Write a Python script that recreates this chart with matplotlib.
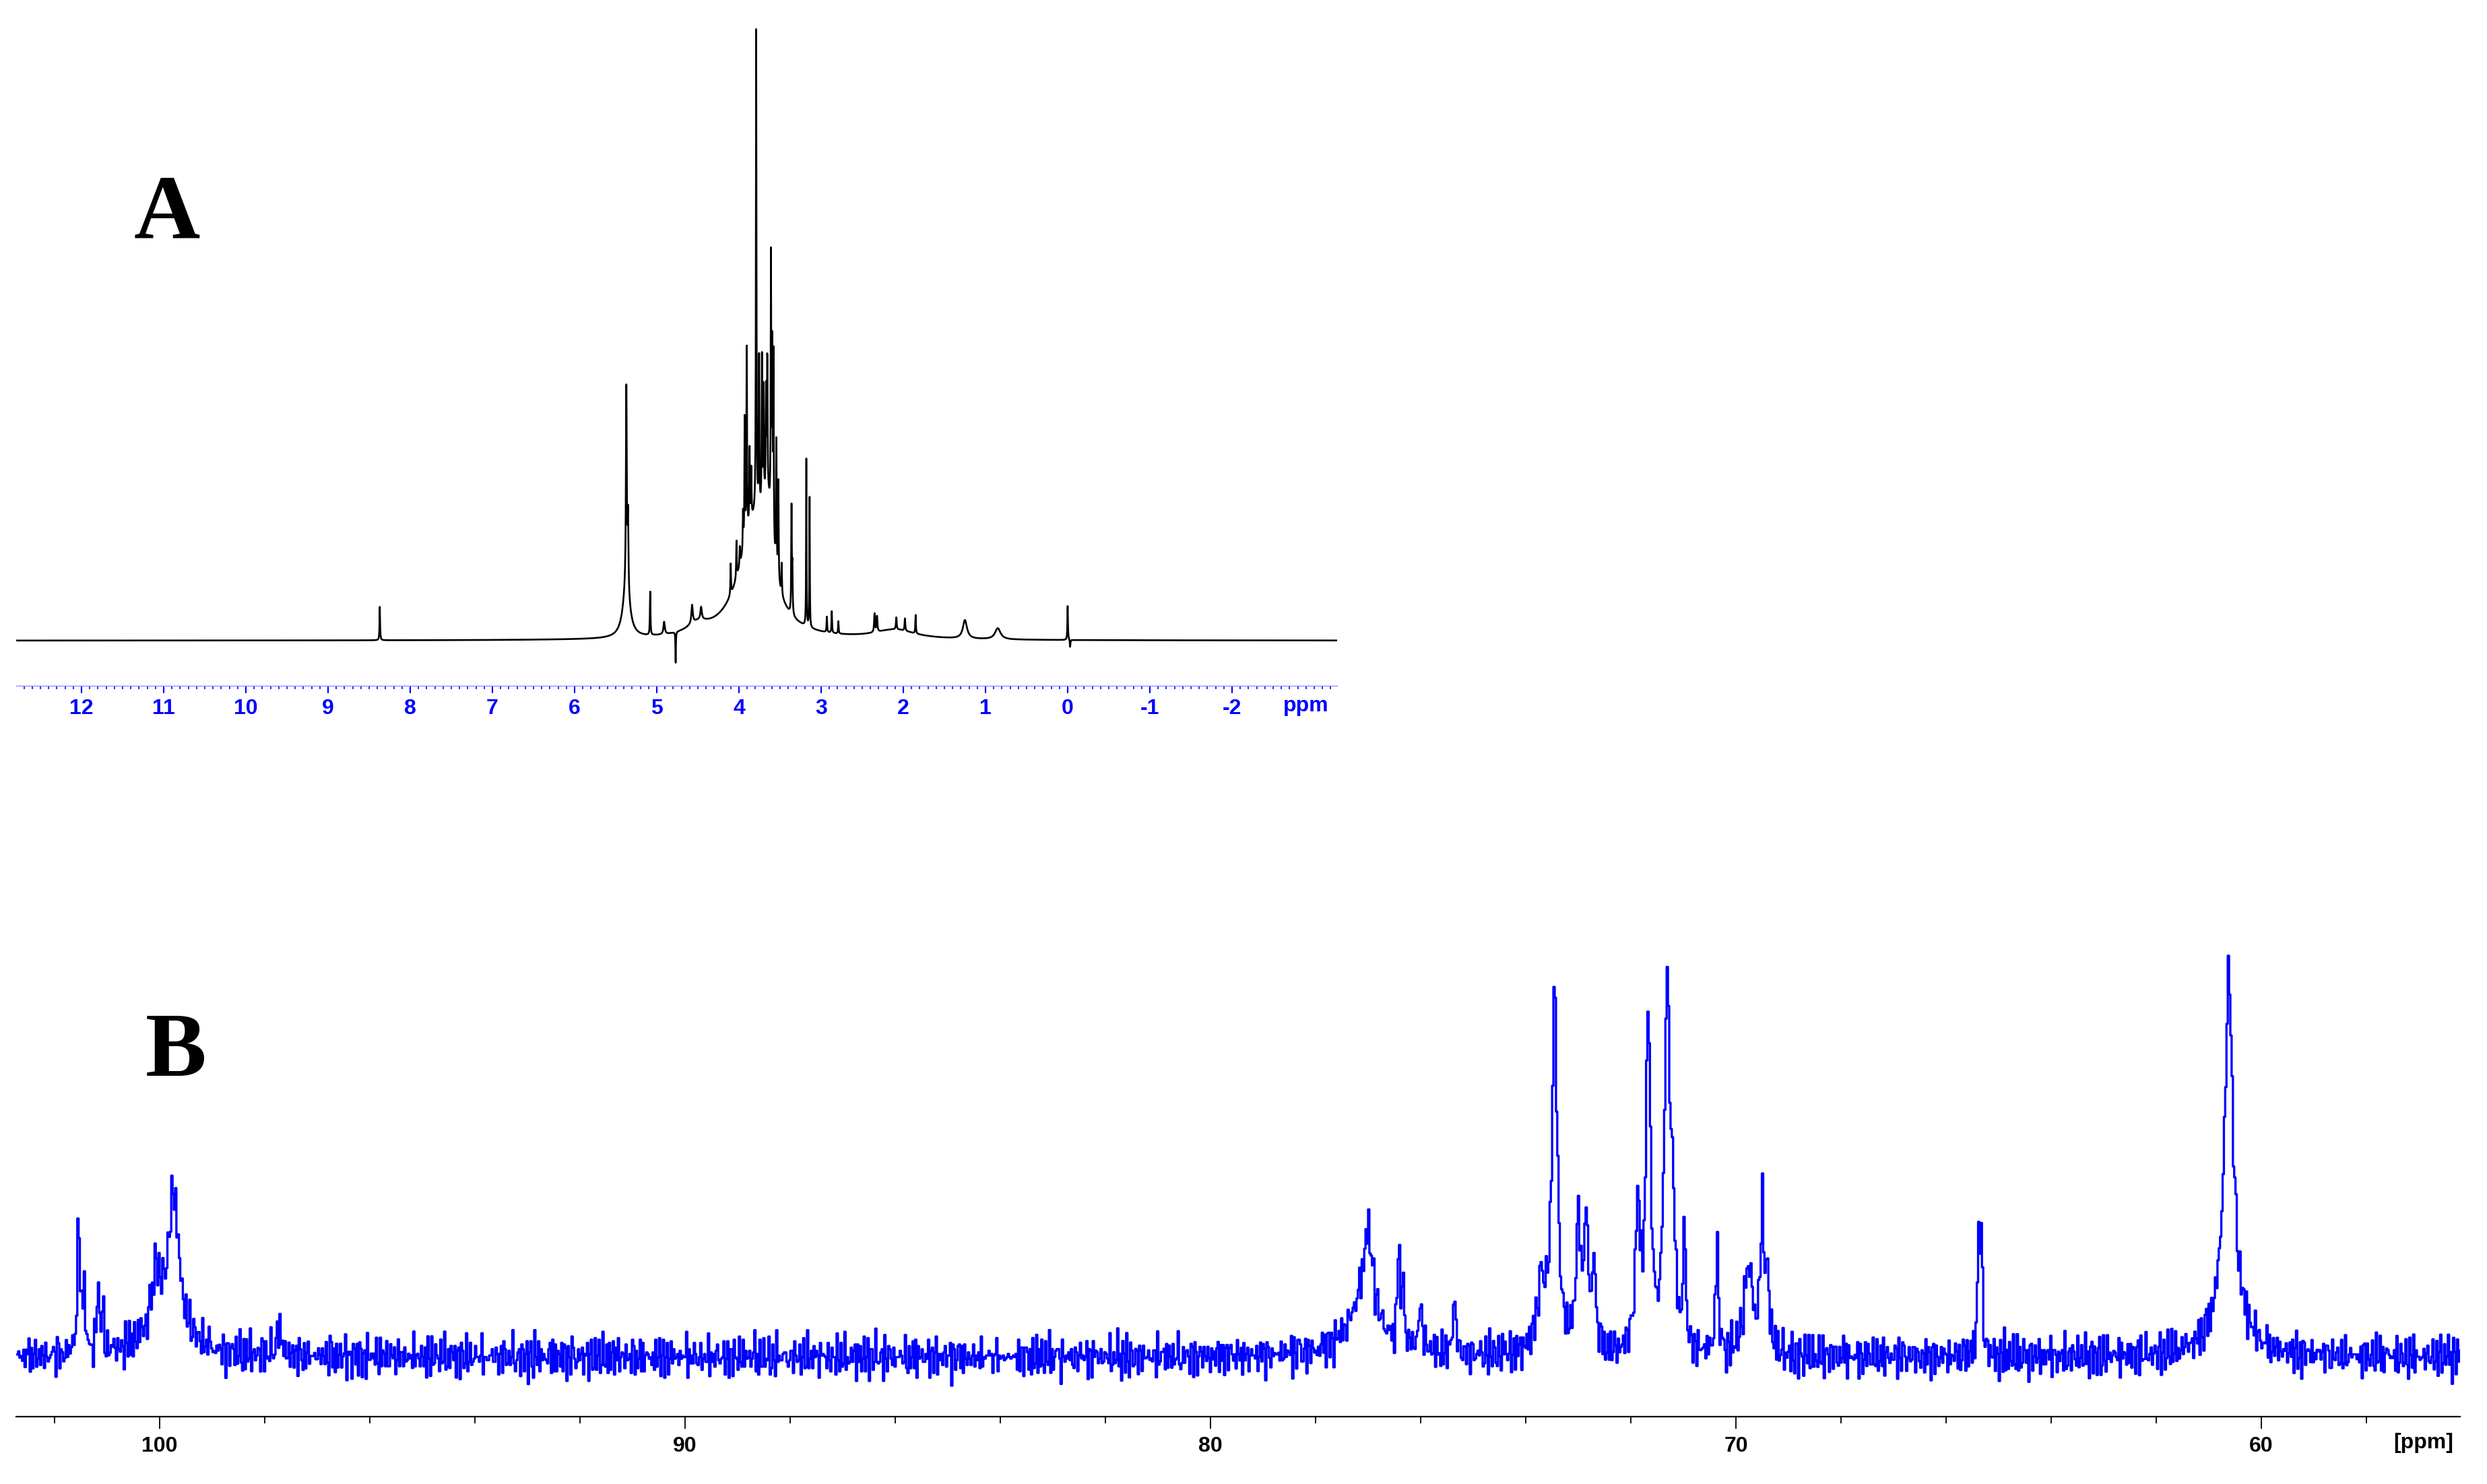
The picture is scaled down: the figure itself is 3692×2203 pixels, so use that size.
import numpy as np
import matplotlib.pyplot as plt
from matplotlib.ticker import MultipleLocator, FixedLocator

# === 1. data ===
# panel A (1H): peak position [ppm], height (tallest = 100), half width [ppm]
h1_ppm = [8.37, 5.37, 5.37, 5.35, 5.08, 4.91, 4.77, 4.57, 4.46, 4.50,
          4.10, 4.03, 3.99, 3.95, 3.93, 3.905, 3.87, 3.85, 3.82, 3.79,
          3.755, 3.72, 3.70, 3.67, 3.655, 3.65, 3.61, 3.595, 3.58, 3.545,
          3.52, 3.48, 3.36, 3.35, 3.18, 3.14, 2.93, 2.87, 2.79, 2.35,
          2.32, 2.10, 2.085, 1.98, 1.85, 1.25, 0.85, 0.0, -0.03]
h1_int = [5.4, 8.0, 32.0, 12.0, 7.0, 2.0, -5.0, 3.0, 2.0, 1.5,
          5.0, 6.0, 3.0, 6.0, 20.0, 32.0, 12.0, 8.0, 18.0, 78.0,
          26.0, 24.0, 18.0, 16.0, 22.0, 12.0, 42.0, 30.0, 30.0, 22.0,
          16.0, 5.0, 17.0, 7.0, 27.0, 21.0, 2.5, 3.5, 2.0, 3.0,
          2.5, 1.5, 2.0, 2.0, 3.0, 3.0, 1.8, 5.5, -1.2]
h1_hw = [0.004, 0.05, 0.006, 0.006, 0.004, 0.01, 0.003, 0.01, 0.01, 0.15,
         0.004, 0.004, 0.004, 0.004, 0.004, 0.004, 0.004, 0.004, 0.22, 0.004,
         0.004, 0.004, 0.004, 0.004, 0.004, 0.07, 0.004, 0.004, 0.004, 0.004,
         0.004, 0.004, 0.004, 0.004, 0.003, 0.003, 0.004, 0.004, 0.004, 0.006,
         0.006, 0.3, 0.005, 0.005, 0.004, 0.03, 0.04, 0.004, 0.004]

# panel B (13C): position [ppm], height, half width [ppm]
c13_ppm = [101.54, 101.44, 101.17, 101.08, 100.07, 99.73, 99.9, 97.72,
           77.0, 77.1, 76.42, 76.34, 76.0, 75.36,
           73.7, 73.45, 73.0, 72.85, 72.7, 71.87, 71.67, 71.31, 71.2,
           70.98, 70.36, 69.76, 69.5, 69.4, 65.38, 65.33, 60.62, 60.62]
c13_int = [95, 45, 45, 25, 35, 85, 20, 18,
           55, 25, 60, 45, 25, 45,
           40, 225, 80, 80, 50, 90, 217, 230, 70,
           80, 80, 55, 85, 45, 70, 70, 205, 35]
c13_hw = [0.025, 0.025, 0.025, 0.025, 0.08, 0.12, 0.45, 0.05,
          0.12, 0.4, 0.025, 0.025, 0.05, 0.025,
          0.1, 0.06, 0.05, 0.05, 0.04, 0.05, 0.05, 0.06, 0.05,
          0.025, 0.025, 0.1, 0.04, 0.04, 0.025, 0.025, 0.09, 0.3]

# baseline noise of B, typed by hand
noise_a = [3, -5, 7, -2, -8, 4, 1, -6, 9, -3, 2, -7, 5, 0, -4, 8, -1, -9,
           6, -2, 3, -6, 1, 7, -5, -1, 4, -8, 2, 6, -3, -7, 9, 0, -4, 5,
           -2, 3, -9, 7, 1, -5, 4, -1, 8, -6, 2, -3, 6, -8, 0, 5, -4]
noise_b = [-2, 6, -4, 1, 8, -7, 3, -1, -5, 4, 9, -3, 0, -8, 5, 2, -6, 7,
           -2, -4, 3, 6, -9, 1, 4, -3, -6, 8, 0, -1, 5, -7, 2, 7, -5, -2,
           3, -8, 6, 1, -4, 9, -6, 2, -1, 4, -3]

h1_ticks = list(range(-2, 13))
c13_ticks = [100, 90, 80, 70, 60]


def lorentz(x, c, h, w):
    return h / (1.0 + ((x - c) / w) ** 2)


# === 2. build spectra ===
ppm_a = np.arange(-3.3, 12.82, 0.002)
spec_a = np.zeros_like(ppm_a)
for c, h, w in zip(h1_ppm, h1_int, h1_hw):
    spec_a += lorentz(ppm_a, c, h, w)

ppm_b = np.linspace(102.73, 56.22, 1900)
spec_b = np.zeros_like(ppm_b)
for c, h, w in zip(c13_ppm, c13_int, c13_hw):
    spec_b += lorentz(ppm_b, c, h, w)
n = len(ppm_b)
spec_b += np.resize(noise_a, n) + np.resize(noise_b, n)

# === 3. figure ===
W, H = 3692, 2203
fig = plt.figure(figsize=(W / 100, H / 100), dpi=100)
blue = "#0000ff"

# panel A
axA = fig.add_axes([24 / W, 1 - 1018 / H, 1961 / W, 998 / H])
axA.plot(ppm_a, spec_a, color="black", lw=1.9)
axA.set_xlim(12.795, -3.279)
axA.set_ylim(-7.3, 101.4)
for s in ["top", "left", "right"]:
    axA.spines[s].set_visible(False)
axA.spines["bottom"].set_color("#9090ff")
axA.spines["bottom"].set_linewidth(1.0)
axA.set_yticks([])
axA.xaxis.set_major_locator(FixedLocator(h1_ticks))
axA.xaxis.set_minor_locator(MultipleLocator(0.1))
axA.set_xticklabels([str(t) for t in h1_ticks])
axA.tick_params(axis="x", which="major", length=8, width=1.5, color=blue,
                labelcolor=blue, labelsize=23, pad=6)
axA.tick_params(axis="x", which="minor", length=3.5, width=1.2, color=blue)
for lab in axA.get_xticklabels():
    lab.set_fontweight("bold")
    lab.set_family(["Liberation Sans", "DejaVu Sans"])
fig.text(1939 / W, 1 - 1048 / H, "ppm", color=blue, fontsize=23,
         fontweight="bold", family=["Liberation Sans", "DejaVu Sans"],
         ha="center", va="center")

# panel B
axB = fig.add_axes([24 / W, 1 - 2103 / H, 3628 / W, 723 / H])
axB.plot(ppm_b, spec_b, color=blue, lw=2.4, drawstyle="steps-mid")
axB.set_xlim(102.73, 56.22)
axB.set_ylim(-37.4, 269.7)
for s in ["top", "left", "right"]:
    axB.spines[s].set_visible(False)
axB.spines["bottom"].set_linewidth(1.6)
axB.set_yticks([])
axB.xaxis.set_major_locator(FixedLocator(c13_ticks))
axB.xaxis.set_minor_locator(MultipleLocator(2))
axB.set_xticklabels([str(t) for t in c13_ticks])
axB.tick_params(axis="x", which="major", length=13, width=1.3,
                labelsize=23, pad=8)
axB.tick_params(axis="x", which="minor", length=7, width=1.3)
for lab in axB.get_xticklabels():
    lab.set_fontweight("bold")
    lab.set_family(["Liberation Sans Narrow", "Liberation Sans", "DejaVu Sans"])
fig.text(3598 / W, 1 - 2142 / H, "[ppm]", color="black", fontsize=23,
         fontweight="bold",
         family=["Liberation Sans Narrow", "Liberation Sans", "DejaVu Sans"],
         ha="center", va="center")

# panel letters
fig.text(248 / W, 1 - 353 / H, "A", fontsize=98, fontweight="bold",
         family=["Liberation Serif", "DejaVu Serif"], ha="center", va="baseline")
fig.text(261 / W, 1 - 1597 / H, "B", fontsize=98, fontweight="bold",
         family=["Liberation Serif", "DejaVu Serif"], ha="center", va="baseline")

fig.savefig("out.png", dpi=100)
